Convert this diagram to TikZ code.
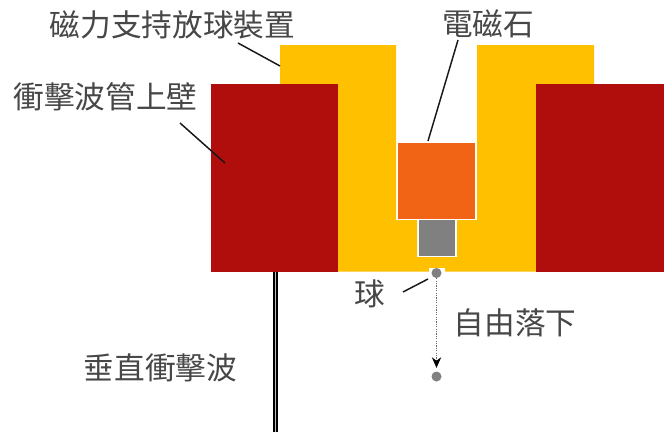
\documentclass[tikz,border=0pt]{standalone}
\usepackage{fontspec}
\newfontfamily\cjk{Noto Sans CJK TC}[Scale=1]
\usetikzlibrary{arrows.meta}
\tikzset{
  px/.style={x=0.75pt,y=-0.75pt},
  lbl/.style={font=\cjk\fontsize{23}{26}\selectfont,text=black!72,inner sep=0pt,anchor=center},
  lead/.style={draw=black!90,line width=1.1pt},
  block/.style={draw=none,inner sep=0pt}
}
\definecolor{wallred}{HTML}{B00D0D}
\definecolor{holder}{HTML}{FFC000}
\definecolor{magnet}{HTML}{F16315}
\definecolor{ballgray}{HTML}{808080}
\begin{document}
\begin{tikzpicture}[px]
\useasboundingbox (0,0) rectangle (664,432);
\fill[white] (0,0) rectangle (664,432);
% holder
\fill[holder] (280,45) -- (396,45) -- (396,220) -- (417,220) -- (417,257) -- (457,257) -- (457,220) -- (477,220) -- (477,45) -- (594,45) -- (594,84) -- (536,84) -- (536,271.5) -- (338,271.5) -- (338,84) -- (280,84) -- cycle;
% walls
\fill[wallred] (211,84) rectangle (338,271.5);
\fill[wallred] (536,84) rectangle (664,271.5);
% magnet and core
\node[block,fill=magnet,minimum width=57.5pt,minimum height=57pt] (mag) at (436.5,180.5) {};
\node[block,fill=ballgray,minimum width=27pt,minimum height=27pt] (core) at (436.5,238) {};
% ball
\fill[white] (429,268) rectangle (445,272);
\node[circle,fill=ballgray,minimum size=7.5pt,inner sep=0pt] (ballA) at (436.5,273) {};
\node[circle,fill=ballgray,minimum size=7.5pt,inner sep=0pt] (ballB) at (436.5,376.5) {};
\draw[black!60,line width=0.8pt,densely dotted,shorten >=2.5pt,-{Stealth[black,length=8pt,width=7pt]}] (ballA) -- (ballB);
% shock wave
\draw[black,line width=3.2pt] (275.5,271.5) -- (275.5,432);
\draw[white!75!black,line width=0.9pt] (275.5,271.5) -- (275.5,432);
% labels
\node[lbl] (t1) at (172.5,25) {磁力支持放球裝置};
\node[lbl] (t2) at (488,24) {電磁石};
\node[lbl] (t3) at (105.5,97) {衝擊波管上壁};
\node[lbl] (t4) at (370,294) {球};
\node[lbl] (t5) at (515,323) {自由落下};
\node[lbl] (t6) at (160.5,368) {垂直衝擊波};
% leaders
\coordinate (e1s) at (238,43); \coordinate (e1e) at (280,66);
\coordinate (e2s) at (458,40); \coordinate (e2e) at (428,141);
\coordinate (e3s) at (180,123); \coordinate (e3e) at (225,163);
\coordinate (e4s) at (403,292); \coordinate (e4e) at (428,279);
\draw[lead] (e1s) -- (e1e);
\draw[lead] (e2s) -- (e2e);
\draw[lead] (e3s) -- (e3e);
\draw[lead] (e4s) -- (e4e);
\end{tikzpicture}
\end{document}
